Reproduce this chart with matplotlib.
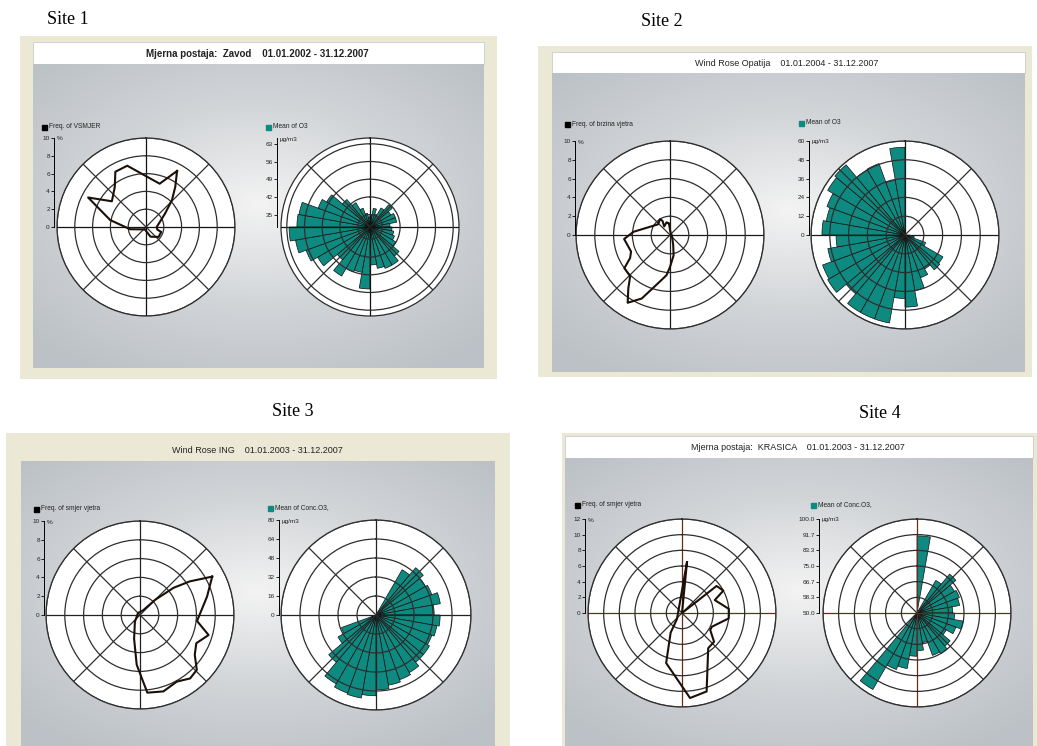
import numpy as np
import matplotlib
matplotlib.use("Agg")
import matplotlib.pyplot as plt
from matplotlib.patches import Rectangle
from matplotlib.colors import LinearSegmentedColormap

# =============== DATA ===============

# Frequency roses: vertex direction (deg, clockwise from N) and frequency (%)
S1_FREQ_DIR = [29, 17.5, 343, 331, 322, 307, 297, 281, 262, 206, 155, 128, 108, 103, 90, 55, 44, 36]
S1_FREQ_VAL = [7.2, 5.1, 7.2, 7.1, 5.7, 4.8, 7.3, 4.1, 1.8, 0.3, 1.2, 1.8, 1.8, 1.3, 1.2, 2.6, 4.2, 5.6]

S2_FREQ_DIR = [355, 345, 326, 332, 328, 312, 275, 265, 247, 240, 234, 224, 218, 212, 204, 194, 185, 180, 170, 162, 100, 20]
S2_FREQ_VAL = [1.2, 1.4, 1.1, 1.7, 2.0, 1.7, 3.9, 4.9, 4.5, 4.9, 6.0, 6.1, 7.2, 8.5, 7.4, 5.3, 4.3, 3.4, 2.2, 1.1, 0.2, 0.2]

S3_FREQ_DIR = [62, 74.6, 96, 106.3, 116.6, 126, 134, 141.7, 151, 163, 174.6, 183.8, 194, 217, 315, 33.7, 45, 51, 56]
S3_FREQ_VAL = [8.7, 7.4, 6.1, 7.6, 6.7, 7.2, 8.4, 8.6, 8.1, 8.5, 8.3, 5.3, 2.6, 0.9, 0.3, 0.6, 2.3, 4.6, 6.4]

S4_FREQ_DIR = [5.6, 30, 52, 61.6, 68.5, 85, 96.6, 114.7, 121, 131.9, 143.3, 162.6, 174.6, 197.6, 210, 220]
S4_FREQ_VAL = [6.5, 0.0, 5.6, 6.0, 4.5, 6.0, 6.0, 4.2, 4.2, 5.5, 5.6, 10.5, 10.9, 6.7, 2.9, 1.0]

# Mean O3 roses: 36 sectors of 10 deg (0-10, 10-20, ... 350-360)
S1_MEAN = [34.8, 37.6, 35.6, 38.8, 41.6, 39.6, 40.8, 40.8, 38.0, 38.8, 39.6, 40.4,
           42.0, 45.1, 47.5, 47.5, 46.7, 45.1, 54.6, 48.3, 49.0, 52.5, 47.0, 54.0,
           57.0, 60.0, 62.1, 59.0, 58.6, 51.9, 49.9, 44.3, 41.2, 38.0, 35.6, 34.1]
S2_MEAN = [0, 0, 0, 0, 0, 0, 0, 0, 0, 3, 6, 14,
           28, 29, 25, 29, 36, 46, 40.5, 57, 57, 57, 49, 57,
           56, 50, 44, 53, 51, 53, 57, 58.5, 48, 48.5, 35.5, 56]
S3_MEAN = [0, 0, 0, 44, 52, 48, 50, 55, 49, 54, 52, 50,
           52, 52, 56, 58, 60, 63, 68, 71, 70, 67, 52, 37,
           31, 0, 0, 0, 0, 0, 0, 0, 0, 0, 0, 0]
S4_MEAN = [91, 50, 50, 70, 77, 73, 74, 73, 69, 70, 75, 72,
           68, 73, 75, 74, 66, 70, 73, 80, 82, 97, 50, 50,
           50, 50, 50, 50, 50, 50, 50, 50, 50, 50, 50, 50]

SITE_LABELS = ["Site 1", "Site 2", "Site 3", "Site 4"]
TITLES = ["Mjerna postaja:  Zavod    01.01.2002 - 31.12.2007",
          "Wind Rose Opatija    01.01.2004 - 31.12.2007",
          "Wind Rose ING    01.01.2003 - 31.12.2007",
          "Mjerna postaja:  KRASICA    01.01.2003 - 31.12.2007"]
FREQ_LABELS = ["Freq. of VSMJER", "Freq. of brzina vjetra",
               "Freq. of smjer vjetra", "Freq. of smjer vjetra"]
MEAN_LABELS = ["Mean of O3", "Mean of O3", "Mean of Conc.O3,", "Mean of Conc.O3,"]

FREQ_TICKS = [[0, 2, 4, 6, 8, 10], [0, 2, 4, 6, 8, 10],
              [0, 2, 4, 6, 8, 10], [0, 2, 4, 6, 8, 10, 12]]
MEAN_TICKS = [[35, 42, 49, 56, 63], [0, 12, 24, 36, 48, 60],
              [0, 16, 32, 48, 64, 80], [50.0, 58.3, 66.7, 75.0, 83.3, 91.7, 100.0]]
MEAN_LIMS = [(30.1, 65.3), (0, 60), (0, 80), (50, 100)]

# =============== STYLE / LAYOUT ===============

W, H = 1037, 746
BEIGE = "#ECE8D6"
RING = "#2E2E2E"
TEAL = "#0F8A80"
LINE = "#1C0F08"
SANS = ["Liberation Sans", "DejaVu Sans"]

# panel layout in pixels: beige frame, white title bar, grey area
PANELS = [
    dict(frame=(20, 36, 497, 379), bar=(33, 42, 484, 64), grey=(33, 64, 484, 368),
         title_xy=(257, 54), bold=True, label_xy=(68, 20),
         freq=(146, 227, 89, 54), mean=(370, 227, 89, 277),
         leg_f=(42, 127), leg_m=(266, 127), cross="#111111"),
    dict(frame=(538, 46, 1032, 377), bar=(552, 52, 1025, 73), grey=(552, 73, 1025, 372),
         title_xy=(787, 64), bold=False, label_xy=(662, 22),
         freq=(670, 235, 94, 575), mean=(905, 235, 94, 809),
         leg_f=(565, 124), leg_m=(799, 123), cross="#1A1A1A"),
    dict(frame=(6, 433, 510, 746), bar=None, grey=(21, 461, 495, 746),
         title_xy=(257, 451), bold=False, label_xy=(293, 412),
         freq=(140, 615, 94, 44), mean=(376, 615, 95, 279),
         leg_f=(34, 509), leg_m=(268, 508), cross="#222222"),
    dict(frame=(562, 433, 1037, 746), bar=(565, 436, 1033, 458), grey=(565, 458, 1033, 746),
         title_xy=(798, 448), bold=False, label_xy=(880, 413),
         freq=(682, 613, 94, 585), mean=(917, 613, 94, 819),
         leg_f=(575, 505), leg_m=(811, 505), cross="#6B2A1A"),
]


def fig_rect(x0, y0, x1, y1):
    return [x0 / W, 1 - y1 / H, (x1 - x0) / W, (y1 - y0) / H]


def fx(x):
    return x / W


def fy(y):
    return 1 - y / H


def polar_axes(fig, cx, cy, R, lims, ticks, cross):
    ax = fig.add_axes(fig_rect(cx - R, cy - R, cx + R, cy + R), projection="polar")
    ax.set_theta_zero_location("N")
    ax.set_theta_direction(-1)
    ax.set_ylim(*lims)
    ax.set_yticks([t for t in ticks if t > lims[0]])
    ax.set_yticklabels([])
    ax.set_xticks(np.deg2rad(np.arange(0, 360, 45)))
    ax.set_xticklabels([])
    ax.tick_params(length=0)
    ax.set_facecolor("white")
    ax.grid(True, color=RING, lw=0.9)
    for i, gl in enumerate(ax.xaxis.get_gridlines()):
        gl.set_color(cross if i % 2 == 0 else RING)
    ax.spines["polar"].set_color(RING)
    ax.spines["polar"].set_linewidth(0.9)
    ax.set_axisbelow(False)
    return ax


def value_axis(fig, xa, cy, R, lims, ticks, fmt, unit):
    va = fig.add_axes(fig_rect(xa, cy - R, xa + 1, cy))
    va.set_ylim(*lims)
    va.set_xticks([])
    va.set_yticks(ticks)
    va.set_yticklabels([fmt.format(t) for t in ticks], fontsize=4.6,
                       family=SANS, color="#222222")
    for s in ["top", "right", "bottom"]:
        va.spines[s].set_visible(False)
    va.spines["left"].set_linewidth(0.7)
    va.patch.set_alpha(0)
    va.tick_params(axis="y", length=2, width=0.6, pad=1)
    fig.text(fx(xa + 3), fy(cy - R + 1), unit, fontsize=4.6, family=SANS,
             va="center", color="#222222")


def legend_item(fig, x, y, color, text):
    fig.add_artist(Rectangle((fx(x), fy(y + 2.5)), 5 / W, 5 / H,
                             transform=fig.transFigure, color=color))
    fig.text(fx(x + 7), fy(y), text, fontsize=4.8, family=SANS,
             va="center", color="#222222")


# =============== FIGURE ===============

fig = plt.figure(figsize=(W / 100, H / 100), dpi=100, facecolor="white")

bg = fig.add_axes([0, 0, 1, 1])
bg.set_xlim(0, W)
bg.set_ylim(H, 0)
bg.axis("off")

gx, gy = np.meshgrid(np.linspace(-1, 1, 240), np.linspace(-1, 1, 180))
grad = np.clip(1 - np.sqrt((gx / 1.1) ** 2 + ((gy + 0.08) / 1.05) ** 2) / 1.25, 0, 1)
grey_cmap = LinearSegmentedColormap.from_list("grey", ["#BCC1C6", "#D2D5D8", "#F3F3F3"])

freq_sets = [(S1_FREQ_DIR, S1_FREQ_VAL), (S2_FREQ_DIR, S2_FREQ_VAL),
             (S3_FREQ_DIR, S3_FREQ_VAL), (S4_FREQ_DIR, S4_FREQ_VAL)]
mean_sets = [S1_MEAN, S2_MEAN, S3_MEAN, S4_MEAN]
mean_fmts = ["{:g}", "{:g}", "{:g}", "{:.1f}"]

sector_theta = np.deg2rad(np.arange(5, 360, 10))

for i, p in enumerate(PANELS):
    x0, y0, x1, y1 = p["frame"]
    bg.add_patch(Rectangle((x0, y0), x1 - x0, y1 - y0, color=BEIGE, lw=0))
    if p["bar"]:
        bx0, by0, bx1, by1 = p["bar"]
        bg.add_patch(Rectangle((bx0, by0), bx1 - bx0, by1 - by0, facecolor="white",
                               edgecolor="#C8CDD2", lw=0.6))

    ga = fig.add_axes(fig_rect(*p["grey"]))
    ga.imshow(grad, cmap=grey_cmap, aspect="auto", extent=(0, 1, 0, 1), vmin=0, vmax=1)
    ga.axis("off")

    fig.text(fx(p["title_xy"][0]), fy(p["title_xy"][1]), TITLES[i],
             fontsize=7 if p["bold"] else 6.5, family=SANS,
             fontweight="bold" if p["bold"] else "normal",
             ha="center", va="center", color="#222222")
    fig.text(fx(p["label_xy"][0]), fy(p["label_xy"][1]), SITE_LABELS[i],
             fontsize=13, family=["Liberation Serif", "DejaVu Serif"],
             ha="center", va="center", color="black")

    # frequency rose
    cx, cy, R, xa = p["freq"]
    fticks = FREQ_TICKS[i]
    flims = (0, fticks[-1])
    ax = polar_axes(fig, cx, cy, R, flims, fticks, p["cross"])
    dirs, vals = freq_sets[i]
    th = np.deg2rad(list(dirs) + [dirs[0]])
    rr = list(vals) + [vals[0]]
    ax.plot(th, rr, color=LINE, lw=1.5, zorder=4)
    value_axis(fig, xa, cy, R, flims, fticks, "{:g}", "%")
    legend_item(fig, *p["leg_f"], "black", FREQ_LABELS[i])

    # mean concentration rose
    cx, cy, R, xa = p["mean"]
    mlims = MEAN_LIMS[i]
    ax = polar_axes(fig, cx, cy, R, mlims, MEAN_TICKS[i], p["cross"])
    heights = np.clip(np.array(mean_sets[i], dtype=float) - mlims[0], 0, None)
    keep = heights > 0
    ax.bar(sector_theta[keep], heights[keep], width=np.deg2rad(10), bottom=mlims[0],
           color=TEAL, edgecolor="#111111", lw=0.5, zorder=2)
    value_axis(fig, xa, cy, R, mlims, MEAN_TICKS[i], mean_fmts[i], "µg/m3")
    legend_item(fig, *p["leg_m"], TEAL, MEAN_LABELS[i])

fig.savefig("out.png", dpi=100, facecolor="white")
